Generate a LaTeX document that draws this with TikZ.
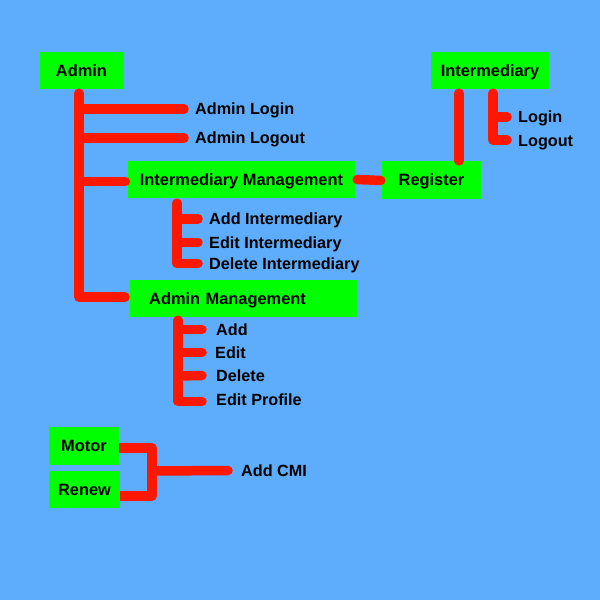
\documentclass[tikz,border=0pt]{standalone}
\usepackage{fontspec}
\setmainfont{Liberation Sans}
\usetikzlibrary{backgrounds}
\definecolor{bg}{RGB}{94,172,252}
\definecolor{grn}{RGB}{0,255,0}
\definecolor{rd}{RGB}{255,24,0}
\begin{document}
\begin{tikzpicture}[x=1pt,y=-1pt,
  box/.style={fill=grn, inner sep=0pt, font=\fontsize{16.4}{19}\selectfont\bfseries, text height=11.5pt, text depth=0pt},
  lbl/.style={anchor=west, inner sep=0pt, font=\fontsize{16.2}{19}\selectfont\bfseries, text height=11.5pt, text depth=0pt},
  wire/.style={draw=rd, line width=9.5pt, line cap=round, line join=round}]
\begin{scope}[on background layer]
\fill[bg] (0,0) rectangle (600,600);
\end{scope}
\useasboundingbox (0,0) rectangle (600,600);

% boxes
\node[box, minimum width=84pt, minimum height=37pt] (admin) at (81.5,70.5) {Admin};
\node[box, minimum width=118pt, minimum height=37pt] (inter) at (490,70.5) {Intermediary};
\node[box, minimum width=227pt, minimum height=37pt] (imgmt) at (241.5,179.5) {Intermediary Management};
\node[box, minimum width=99pt, minimum height=38pt] (reg) at (431.5,180) {Register};
\node[box, anchor=west, minimum width=227pt, minimum height=37pt, text width=189pt, align=left, inner xsep=19pt] (amgmt) at (130,298.5) {Admin Management};
\node[box, minimum width=70pt, minimum height=38pt] (motor) at (84,446) {Motor};
\node[box, minimum width=71pt, minimum height=37pt] (renew) at (84.5,489.5) {Renew};

% labels
\node[lbl] (alogin) at (195,109) {Admin Login};
\node[lbl] (alogout) at (195,138) {Admin Logout};
\node[lbl] (login) at (518,117) {Login};
\node[lbl] (logout) at (518,141) {Logout};
\node[lbl] (addint) at (209,219) {Add Intermediary};
\node[lbl] (editint) at (209,242.5) {Edit Intermediary};
\node[lbl] (delint) at (209,263.5) {Delete Intermediary};
\node[lbl] (add) at (216,329.5) {Add};
\node[lbl] (edit) at (215,352.5) {Edit};
\node[lbl] (del) at (216,376) {Delete};
\node[lbl] (editp) at (216,400) {Edit Profile};
\node[lbl] (addcmi) at (241,470.5) {Add CMI};

% admin trunk
\coordinate (t) at ([xshift=-2.5pt,yshift=-4pt]admin.south);
\draw[wire] (t) |- ([xshift=-5pt,yshift=1.5pt]amgmt.west);
\draw[wire] (alogin.west -| t) -- ([xshift=-11pt]alogin.west);
\draw[wire] (alogout.west -| t) -- ([xshift=-11pt]alogout.west);
\draw[wire] ([yshift=-2pt]imgmt.west -| t) -- ([xshift=-2.5pt,yshift=-2pt]imgmt.west);
\draw[wire] ([xshift=2pt]imgmt.east) -- ([xshift=-1pt,yshift=-0.5pt]reg.west);

% intermediary
\coordinate (iv) at ([xshift=-31pt,yshift=-4pt]inter.south);
\draw[wire] (iv) -- (iv |- reg.north);
\coordinate (iw) at ([xshift=3pt,yshift=-4pt]inter.south);
\draw[wire] (iw) |- ([xshift=-11pt,yshift=1pt]logout.west);
\draw[wire] (login.west -| iw) -- ([xshift=-11pt]login.west);

% intermediary management children
\coordinate (c1) at ([xshift=-64.5pt,yshift=-5pt]imgmt.south);
\draw[wire] (c1) |- ([xshift=-11pt]delint.west);
\draw[wire] (addint.west -| c1) -- ([xshift=-11pt]addint.west);
\draw[wire] (editint.west -| c1) -- ([xshift=-11pt]editint.west);

% admin management children
\coordinate (c2) at ([xshift=-65.5pt,yshift=-3pt]amgmt.south);
\draw[wire] (c2) |- ([xshift=-14pt,yshift=-1.5pt]editp.west);
\draw[wire] (add.west -| c2) -- ([xshift=-14pt]add.west);
\draw[wire] (edit.west -| c2) -- ([xshift=-13pt]edit.west);
\draw[wire] (del.west -| c2) -- ([xshift=-14pt,yshift=0.5pt]del.west);

% motor / renew
\coordinate (j) at (152,471);
\begin{scope}[on background layer]
\draw[wire] ([yshift=-2pt]motor.east) -| (j) |- ([yshift=-6.5pt]renew.east);
\end{scope}
\draw[wire] (j) -- ([xshift=-13pt]addcmi.west);
\end{tikzpicture}
\end{document}
